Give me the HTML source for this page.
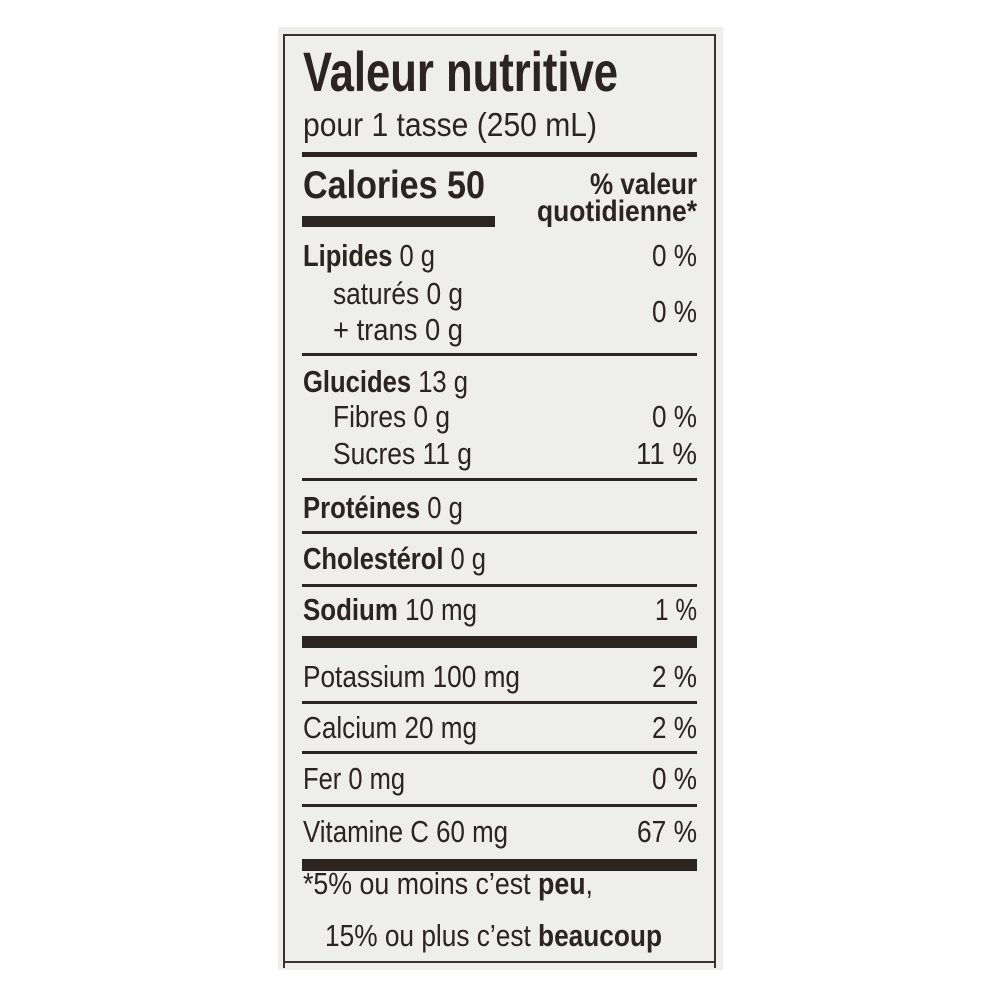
<!DOCTYPE html>
<html><head><meta charset="utf-8"><style>
html,body{margin:0;padding:0;background:#fff;}
svg{display:block;}
text{font-family:"Liberation Sans",sans-serif;fill:#2b2421;}
.b{font-weight:bold;}
</style></head><body>
<svg width="1000" height="1000" viewBox="0 0 1000 1000">
<rect x="0" y="0" width="1000" height="1000" fill="#fff"/>
<rect x="278" y="27" width="445" height="943" fill="#eeeeec"/>
<line x1="284" y1="35" x2="284" y2="968" stroke="#3a302c" stroke-width="2"/>
<line x1="715" y1="35" x2="715" y2="968" stroke="#3a302c" stroke-width="2"/>
<line x1="283" y1="35" x2="716" y2="35" stroke="#3a302c" stroke-width="2"/>
<line x1="283" y1="962" x2="716" y2="962" stroke="#3a302c" stroke-width="2"/>

<text x="303" y="91" font-size="56" class="b" textLength="315" lengthAdjust="spacingAndGlyphs">Valeur nutritive</text>
<text x="303" y="136" font-size="33" textLength="294" lengthAdjust="spacingAndGlyphs">pour 1 tasse (250 mL)</text>
<rect x="302" y="152" width="395" height="5" fill="#2b2421"/>
<text x="303" y="198" font-size="39" class="b" textLength="182" lengthAdjust="spacingAndGlyphs">Calories 50</text>
<rect x="302" y="216" width="193" height="11" fill="#2b2421"/>
<text x="697" y="194" font-size="30" class="b" text-anchor="end" textLength="107" lengthAdjust="spacingAndGlyphs">% valeur</text>
<text x="697" y="221" font-size="30" class="b" text-anchor="end" textLength="160" lengthAdjust="spacingAndGlyphs">quotidienne*</text>

<g font-size="31">
<text x="303" y="266" textLength="132" lengthAdjust="spacingAndGlyphs"><tspan class="b">Lipides</tspan> 0 g</text>
<text x="697" y="266" text-anchor="end" textLength="45" lengthAdjust="spacingAndGlyphs">0 %</text>
<text x="333" y="304" textLength="130" lengthAdjust="spacingAndGlyphs">saturés 0 g</text>
<text x="333" y="340" textLength="130" lengthAdjust="spacingAndGlyphs">+ trans 0 g</text>
<text x="697" y="322" text-anchor="end" textLength="45" lengthAdjust="spacingAndGlyphs">0 %</text>
<rect x="302" y="353" width="395" height="3" fill="#2b2421"/>
<text x="303" y="392" textLength="165" lengthAdjust="spacingAndGlyphs"><tspan class="b">Glucides</tspan> 13 g</text>
<text x="333" y="427" textLength="117" lengthAdjust="spacingAndGlyphs">Fibres 0 g</text>
<text x="697" y="427" text-anchor="end" textLength="45" lengthAdjust="spacingAndGlyphs">0 %</text>
<text x="333" y="464" textLength="139" lengthAdjust="spacingAndGlyphs">Sucres 11 g</text>
<text x="697" y="464" text-anchor="end" textLength="61" lengthAdjust="spacingAndGlyphs">11 %</text>
<rect x="302" y="478" width="395" height="3" fill="#2b2421"/>
<text x="303" y="518" textLength="160" lengthAdjust="spacingAndGlyphs"><tspan class="b">Protéines</tspan> 0 g</text>
<rect x="302" y="531" width="395" height="3" fill="#2b2421"/>
<text x="303" y="569" textLength="183" lengthAdjust="spacingAndGlyphs"><tspan class="b">Cholestérol</tspan> 0 g</text>
<rect x="302" y="584" width="395" height="3" fill="#2b2421"/>
<text x="303" y="620" textLength="174" lengthAdjust="spacingAndGlyphs"><tspan class="b">Sodium</tspan> 10 mg</text>
<text x="697" y="620" text-anchor="end" textLength="42" lengthAdjust="spacingAndGlyphs">1 %</text>
<rect x="302" y="636" width="395" height="12" fill="#2b2421"/>
<text x="303" y="687" textLength="217" lengthAdjust="spacingAndGlyphs">Potassium 100 mg</text>
<text x="697" y="687" text-anchor="end" textLength="45" lengthAdjust="spacingAndGlyphs">2 %</text>
<rect x="302" y="701" width="395" height="3" fill="#2b2421"/>
<text x="303" y="738" textLength="174" lengthAdjust="spacingAndGlyphs">Calcium 20 mg</text>
<text x="697" y="738" text-anchor="end" textLength="45" lengthAdjust="spacingAndGlyphs">2 %</text>
<rect x="302" y="751" width="395" height="3" fill="#2b2421"/>
<text x="303" y="789" textLength="102" lengthAdjust="spacingAndGlyphs">Fer 0 mg</text>
<text x="697" y="789" text-anchor="end" textLength="45" lengthAdjust="spacingAndGlyphs">0 %</text>
<rect x="302" y="804" width="395" height="3" fill="#2b2421"/>
<text x="303" y="842" textLength="205" lengthAdjust="spacingAndGlyphs">Vitamine C 60 mg</text>
<text x="697" y="842" text-anchor="end" textLength="60" lengthAdjust="spacingAndGlyphs">67 %</text>
<rect x="302" y="859" width="395" height="12" fill="#2b2421"/>
<text x="303" y="894" textLength="290" lengthAdjust="spacingAndGlyphs">*5% ou moins c’est <tspan class="b">peu</tspan>,</text>
<text x="325" y="946" textLength="337" lengthAdjust="spacingAndGlyphs">15% ou plus c’est <tspan class="b">beaucoup</tspan></text>
</g>
</svg>
</body></html>
